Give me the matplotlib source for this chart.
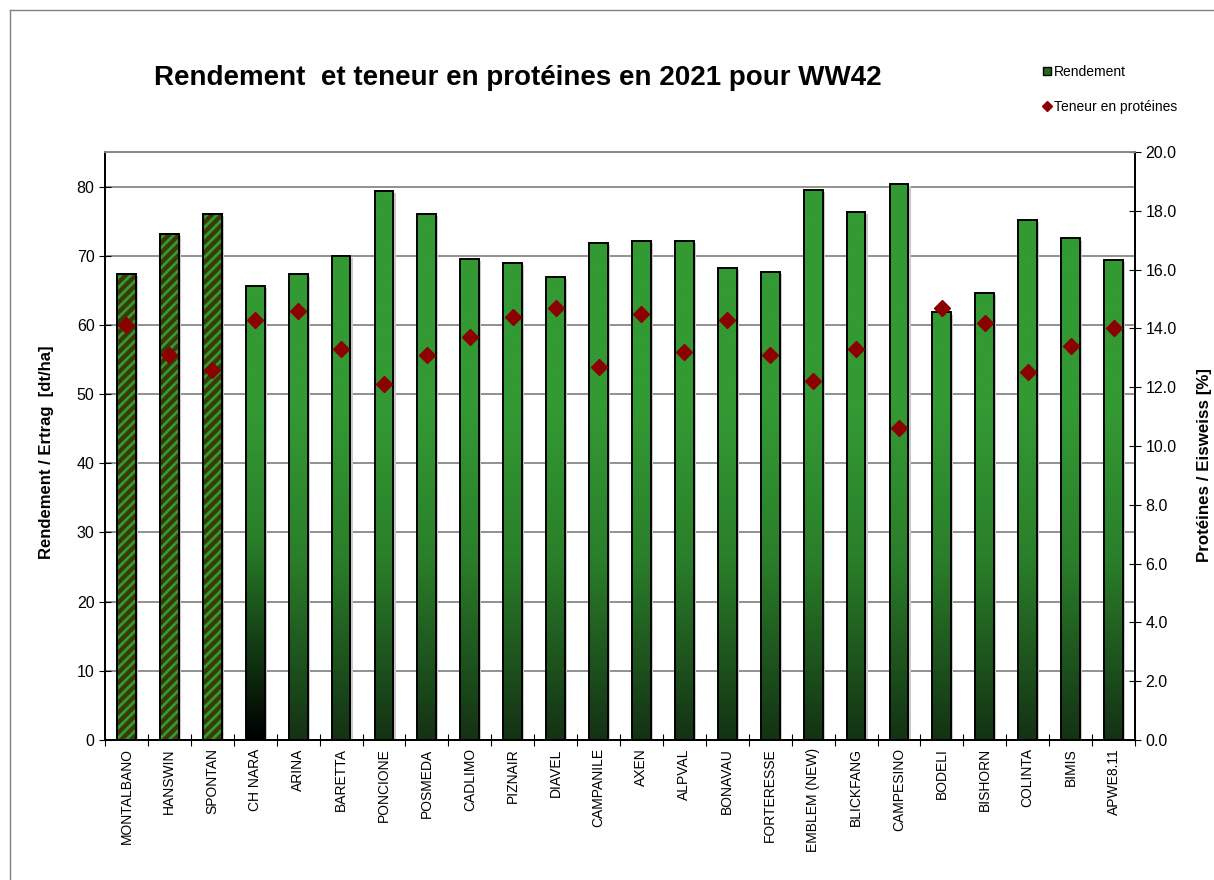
import numpy as np
import matplotlib
matplotlib.use("Agg")
import matplotlib.pyplot as plt
from matplotlib.colors import LinearSegmentedColormap
from matplotlib.lines import Line2D
from matplotlib.patches import Rectangle

plt.rcParams['font.family'] = ['Liberation Sans', 'DejaVu Sans']

categories = ["MONTALBANO", "HANSWIN", "SPONTAN", "CH NARA", "ARINA", "BARETTA", "PONCIONE",
              "POSMEDA", "CADLIMO", "PIZNAIR", "DIAVEL", "CAMPANILE", "AXEN", "ALPVAL",
              "BONAVAU", "FORTERESSE", "EMBLEM (NEW)", "BLICKFANG", "CAMPESINO", "BODELI",
              "BISHORN", "COLINTA", "BIMIS", "APWE8.11"]
rendement = [67.4, 73.1, 76.0, 65.7, 67.3, 70.0, 79.4, 76.0, 69.6, 68.9, 67.0, 71.9,
             72.2, 72.2, 68.2, 67.6, 79.5, 76.3, 80.4, 61.8, 64.6, 75.2, 72.5, 69.4]
proteines = [14.1, 13.1, 12.6, 14.3, 14.6, 13.3, 12.1, 13.1, 13.7, 14.4, 14.7, 12.7,
             14.5, 13.2, 14.3, 13.1, 12.2, 13.3, 10.6, 14.7, 14.2, 12.5, 13.4, 14.0]
hatched_names = ["MONTALBANO", "HANSWIN", "SPONTAN"]
black_grad_names = ["CH NARA"]

W, H = 1214, 880
fig = plt.figure(figsize=(W / 100, H / 100), dpi=100)
ax = fig.add_axes([105 / W, 1 - 740 / H, (1135 - 105) / W, (740 - 152) / H])
ax2 = ax.twinx()

x = np.arange(len(categories))
bw = 0.44
green = "#339933"
cmap_g = LinearSegmentedColormap.from_list("g", [(0, "#143214"), (0.55, "#2a7f2a"), (1, green)])
cmap_b = LinearSegmentedColormap.from_list("b", [(0, "#000000"), (0.6, "#2a7f2a"), (1, green)])

YMAX = 85
ax.set_ylim(0, YMAX)
ax.set_xlim(-0.5, len(categories) - 0.5)
ax.set_yticks(np.arange(0, 81, 10))
for v in np.arange(10, 81, 10):
    ax.axhline(v, color="#888888", lw=1.3, zorder=0.5)

# pixel scales (for 45-degree stripes)
px_per_x = (1135 - 105) / len(categories)
px_per_y = (740 - 152) / YMAX
stripe_period = 10.0 / px_per_y  # vertical stripe period in data units

grad = np.linspace(0, 1, 256).reshape(-1, 1)
for i, (name, val) in enumerate(zip(categories, rendement)):
    # shadow
    ax.add_patch(Rectangle((x[i] - bw / 2 + 0.05, 0), bw, val - 0.3, facecolor="#c8c8c8",
                           edgecolor="none", zorder=1))
    if name in hatched_names:
        b = ax.bar(x[i], val, bw, facecolor="#3a3a06", edgecolor="black", lw=1.4, zorder=2)[0]
        rise = bw * px_per_x / px_per_y
        c = -rise
        while c < val:
            ln, = ax.plot([x[i] - bw / 2, x[i] + bw / 2], [c, c + rise], color=green,
                          lw=2.0, zorder=2.5, solid_capstyle="butt")
            ln.set_clip_path(b)
            c += stripe_period
        ax.bar(x[i], val, bw, facecolor="none", edgecolor="black", lw=1.4, zorder=3)
    else:
        cm = cmap_b if name in black_grad_names else cmap_g
        b = ax.bar(x[i], val, bw, facecolor="none", edgecolor="black", lw=1.4, zorder=3)[0]
        yg = np.clip(grad * YMAX / 48, 0, 1)
        im = ax.imshow(yg, cmap=cm, vmin=0, vmax=1, origin="lower", aspect="auto",
                       extent=(x[i] - bw / 2, x[i] + bw / 2, 0, YMAX), zorder=2, interpolation="bilinear")
        im.set_clip_path(b)

ax.set_xlim(-0.5, len(categories) - 0.5)
ax.set_ylim(0, YMAX)
ax.set_xticks(np.arange(len(categories) + 1) - 0.5, minor=False)
ax.set_xticklabels([])
ax.set_xticks(x, minor=True)
ax.set_xticklabels(categories, minor=True, rotation=90, fontsize=10)
ax.tick_params(axis="x", which="minor", length=0, pad=6)
ax.tick_params(axis="x", which="major", direction="inout", length=8)
ax.tick_params(axis="y", direction="inout", length=8, labelsize=11.5)

ax2.set_ylim(0, 20)
ax2.set_yticks(np.arange(0, 20.1, 2))
ax2.set_yticklabels([f"{v:.1f}" for v in np.arange(0, 20.1, 2)])
ax2.tick_params(axis="y", direction="inout", length=8, labelsize=11.5)
ax2.plot(x, proteines, linestyle="none", marker="D", markersize=8, color="#8b0000", zorder=5)

for a in (ax, ax2):
    a.spines["top"].set_color("#888888")
    a.spines["top"].set_linewidth(1.3)
    a.spines["left"].set_linewidth(1.3)
    a.spines["right"].set_linewidth(1.3)
    a.spines["bottom"].set_linewidth(1.3)

fig.text(47 / W, 1 - 452 / H, "Rendement / Ertrag  [dt/ha]", rotation=90, ha="center", va="center",
         fontsize=12, fontweight="bold")
fig.text(1205 / W, 1 - 465 / H, "Protéines / Eisweiss [%]", rotation=90, ha="center", va="center",
         fontsize=12.2, fontweight="bold")

fig.text(518 / W, 1 - 78 / H, "Rendement  et teneur en protéines en 2021 pour WW42",
         ha="center", va="center", fontsize=20, fontweight="bold")

handles = [Line2D([], [], linestyle="none", marker="s", markersize=6, markerfacecolor="#1f6b1f",
                  markeredgecolor="black"),
           Line2D([], [], linestyle="none", marker="D", markersize=5, color="#8b0000")]
fig.legend(handles, ["Rendement", "Teneur en protéines"], loc="upper left",
           bbox_to_anchor=(1030 / W, 1 - 52 / H), frameon=False, fontsize=10,
           handlelength=0.6, handletextpad=0.2, labelspacing=1.55)

fig.add_artist(Line2D([10 / W, 10 / W], [0, 1 - 10 / H], color="#808080", lw=1, transform=fig.transFigure))
fig.add_artist(Line2D([10 / W, 1], [1 - 10 / H, 1 - 10 / H], color="#808080", lw=1, transform=fig.transFigure))

fig.savefig("out.png", dpi=100)
